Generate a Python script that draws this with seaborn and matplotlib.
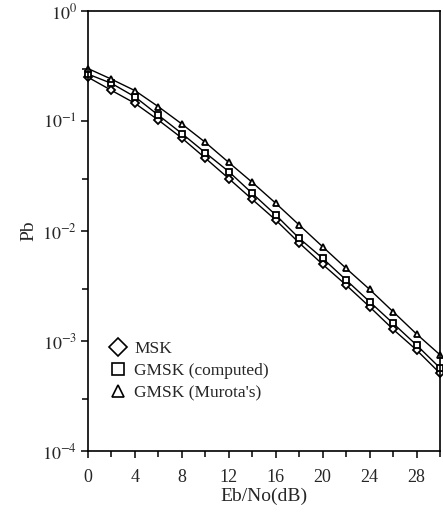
import numpy as np
import pandas as pd
import matplotlib
matplotlib.use("Agg")
import matplotlib.pyplot as plt
from matplotlib.lines import Line2D
from matplotlib.ticker import FixedLocator, NullFormatter
import seaborn as sns

ebno = [0, 2, 4, 6, 8, 10, 12, 14, 16, 18, 20, 22, 24, 26, 28, 30]
msk = [0.25, 0.19, 0.145, 0.102, 0.070, 0.046, 0.030, 0.0194, 0.0126, 0.0078,
       0.00498, 0.00323, 0.00205, 0.00128, 0.00083, 0.00051]
gmsk_computed = [0.267, 0.22, 0.166, 0.113, 0.077, 0.0515, 0.0347, 0.022, 0.014,
                 0.0086, 0.00565, 0.00359, 0.00228, 0.00145, 0.00092, 0.00057]
gmsk_murota = [0.30, 0.24, 0.189, 0.135, 0.094, 0.064, 0.042, 0.0277, 0.0179,
               0.01135, 0.0072, 0.00458, 0.00295, 0.00185, 0.00116, 0.00075]
series_names = ["MSK", "GMSK (computed)", "GMSK (Murota's)"]
legend_labels = ["MSK", "GMSK (computed)", "GMSK (Murota's)"]
x_ticks = [0, 4, 8, 12, 16, 20, 24, 28]
y_ticks = [1e-4, 1e-3, 1e-2, 1e-1, 1e0]
y_tick_labels = [r"$10^{-4}$", r"$10^{-3}$", r"$10^{-2}$", r"$10^{-1}$", r"$10^{0}$"]

df = pd.DataFrame({
    "ebno": ebno * 3,
    "pb": msk + gmsk_computed + gmsk_murota,
    "series": [series_names[0]] * len(ebno) + [series_names[1]] * len(ebno) + [series_names[2]] * len(ebno),
})

sns.set_theme(style="white")
plt.rcParams["font.family"] = ["Liberation Serif", "DejaVu Serif"]
plt.rcParams["mathtext.fontset"] = "stix"

fig = plt.figure(figsize=(4.43, 5.12), dpi=100)
ax = fig.add_axes([0.1986, 0.119, 0.7946, 0.8595])

markers = {series_names[0]: "D", series_names[1]: "s", series_names[2]: "^"}
sns.lineplot(data=df, x="ebno", y="pb", hue="series", style="series",
             palette={n: "black" for n in series_names}, markers=markers,
             dashes=False, markersize=4.2, markerfacecolor="white",
             markeredgecolor="black", markeredgewidth=1.3, linewidth=1.0,
             legend=False, ax=ax, clip_on=False)

ax.set_yscale("log")
ax.set_xlim(0, 30)
ax.set_ylim(1e-4, 1e0)
ax.set_yticks(y_ticks)
ax.set_yticklabels(y_tick_labels, fontsize=13)
ax.yaxis.set_minor_locator(FixedLocator([3e-4, 3e-3, 3e-2, 3e-1]))
ax.yaxis.set_minor_formatter(NullFormatter())
ax.set_xticks(x_ticks)
ax.set_xticklabels([str(t) for t in x_ticks], fontsize=13)
ax.xaxis.set_minor_locator(FixedLocator([2, 6, 10, 14, 18, 22, 26, 30]))
ax.tick_params(axis="both", which="major", direction="out", length=5, width=1.1, color="black", bottom=True, left=True)
ax.tick_params(axis="both", which="minor", direction="out", length=4, width=1.1, color="black", bottom=True, left=True)
ax.tick_params(axis="x", pad=8)
ax.tick_params(axis="y", pad=3)
for s in ax.spines.values():
    s.set_color("black")
    s.set_linewidth(1.2)

ax.set_xlabel("Eb/No(dB)", fontsize=14, labelpad=1)
ax.set_ylabel("Pb", fontsize=14, labelpad=3)

handles = [Line2D([], [], linestyle="none", marker=m, markersize=9, markerfacecolor="white",
                  markeredgecolor="black", markeredgewidth=1.2)
           for m in ["D", "s", "^"]]
ax.legend(handles, legend_labels, loc="upper left", bbox_to_anchor=(0.055, 0.25),
          frameon=False, fontsize=12.5, labelspacing=0.34, handletextpad=0.35,
          borderaxespad=0, borderpad=0, handlelength=1.2)

fig.savefig("out.png", dpi=100)
